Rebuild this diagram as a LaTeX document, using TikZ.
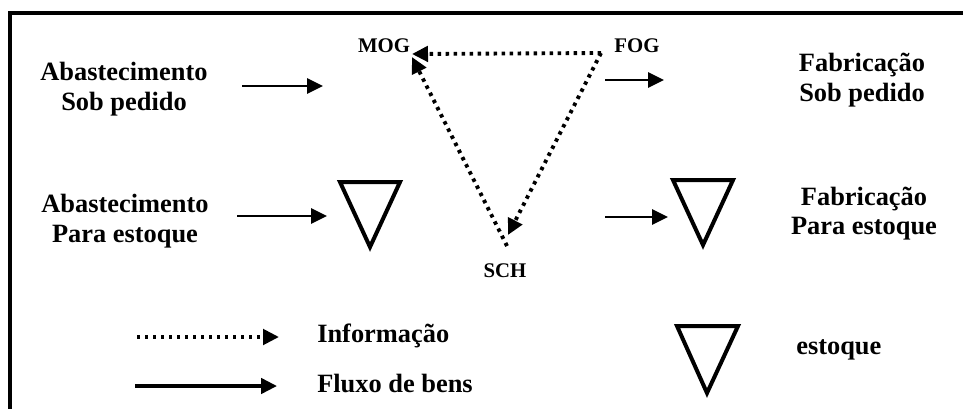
\documentclass[tikz,border=0pt]{standalone}
\usepackage{fontspec}
\setmainfont{Liberation Serif}
\usetikzlibrary{arrows.meta}
\begin{document}
\begin{tikzpicture}[x=0.75pt,y=-0.75pt,
  big/.style={font=\fontsize{19.8pt}{22.5pt}\selectfont\bfseries, inner sep=0pt, anchor=base},
  small/.style={font=\fontsize{15.6pt}{18pt}\selectfont\bfseries, inner sep=0pt, anchor=base},
  tip/.style={-{Triangle[length=12pt,width=11.5pt]}},
  flow/.style={tip, line width=1.6pt},
  flowthick/.style={tip, line width=2.7pt},
  info/.style={tip, line width=2.9pt, dash pattern=on 2.6pt off 3.4pt},
  stock/.style={line width=3pt, line join=miter},
  frame/.style={line width=3pt, line join=miter}]
\useasboundingbox (0,0) rectangle (963,408);
\fill[white] (0,0) rectangle (963,408);
% frame
\draw[frame] (9.5,410) -- (9.5,12.5) -- (965,12.5);

% left labels
\node[big] (ab1) at (124,80) {Abastecimento};
\node[big] (ab2) at (124,110) {Sob pedido};
\node[big] (ae1) at (125,212) {Abastecimento};
\node[big] (ae2) at (125,242) {Para estoque};
% right labels
\node[big] (fa1) at (862,71) {Fabricação};
\node[big] (fa2) at (862,101) {Sob pedido};
\node[big] (fe1) at (864,205) {Fabricação};
\node[big] (fe2) at (864,234) {Para estoque};

% triangle vertex labels
\node[small] (mog) at (384,52) {MOG};
\node[small] (fog) at (637,52) {FOG};
\node[small] (sch) at (505,277) {SCH};

% triangle vertices
\coordinate (MOGa) at (412,54);
\coordinate (MOGb) at (412,57);
\coordinate (FOGv) at (601,53);
\coordinate (SCHv) at (507,246);
\coordinate (SCHt) at (508,235);

\draw[info] (FOGv) -- (MOGa);
\draw[info] (SCHv) -- (MOGb);
\draw[info] (FOGv) -- (SCHt);

% flow arrows
\coordinate (f1s) at (242,86);  \coordinate (f1e) at (323,86);
\coordinate (f2s) at (605,80);  \coordinate (f2e) at (664,80);
\coordinate (f3s) at (237,216); \coordinate (f3e) at (327,216);
\coordinate (f4s) at (605,217); \coordinate (f4e) at (668,217);
\draw[flow] (f1s) -- (f1e);
\draw[flow] (f2s) -- (f2e);
\draw[flow] (f3s) -- (f3e);
\draw[flow] (f4s) -- (f4e);

% stock triangles
\draw[stock] (340,182) -- (400,182) -- (370,247) -- cycle;
\draw[stock] (673,180) -- (733,180) -- (703,245) -- cycle;
\draw[stock] (677,326) -- (738,326) -- (707,393) -- cycle;

% legend
\coordinate (l1s) at (137,337); \coordinate (l1e) at (279,337);
\coordinate (l2s) at (135,386); \coordinate (l2e) at (277,386);
\draw[info] (l1s) -- (l1e);
\draw[flowthick] (l2s) -- (l2e);
\node[big, anchor=base west] (inf) at (317,342) {Informação};
\node[big, anchor=base west] (flx) at (317,392) {Fluxo de bens};
\node[big, anchor=base west] (est) at (796,354) {estoque};
\end{tikzpicture}
\end{document}
